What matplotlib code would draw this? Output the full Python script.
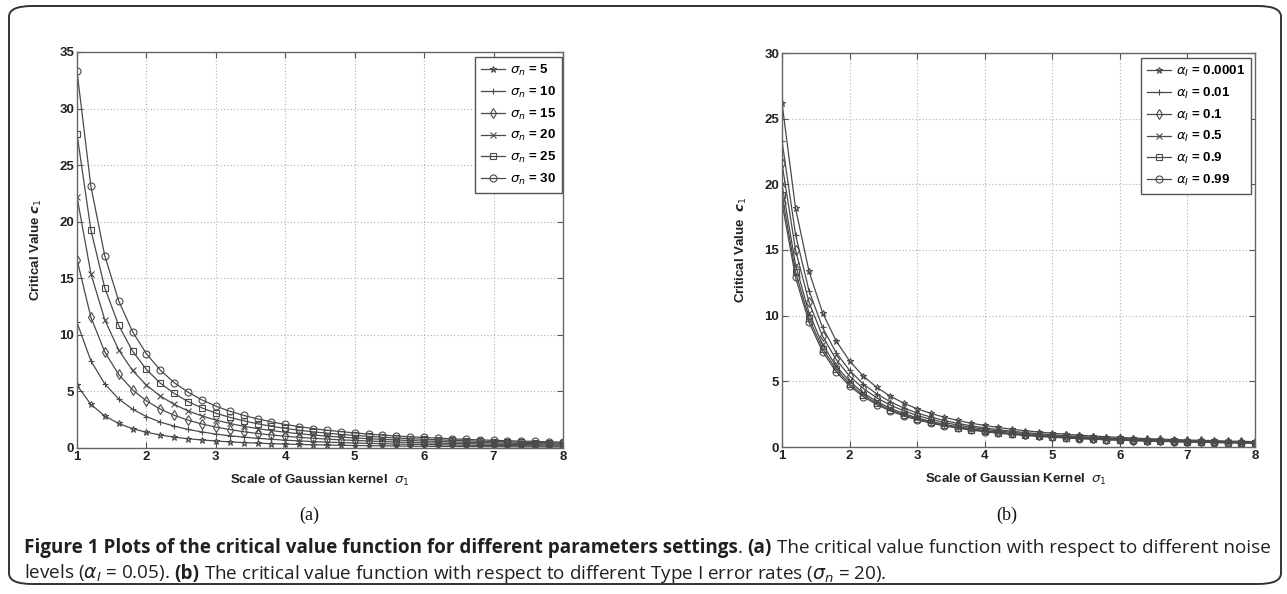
import matplotlib
matplotlib.use("Agg")
import matplotlib.pyplot as plt
from matplotlib import font_manager as fm
from matplotlib.patches import FancyBboxPatch

W, H = 1287, 594

# scale of the Gaussian kernel (x axis, both panels)
sigma_1 = [1.0, 1.2, 1.4, 1.6, 1.8, 2.0, 2.2, 2.4, 2.6, 2.8, 3.0, 3.2,
           3.4, 3.6, 3.8, 4.0, 4.2, 4.4, 4.6, 4.8, 5.0, 5.2, 5.4, 5.6,
           5.8, 6.0, 6.2, 6.4, 6.6, 6.8, 7.0, 7.2, 7.4, 7.6, 7.8, 8.0]

# panel (a): noise levels
noise_labels = ["5", "10", "15", "20", "25", "30"]
c_noise_5 = [5.55, 3.85, 2.83, 2.17, 1.71, 1.39, 1.15, 0.96, 0.82, 0.71, 0.62, 0.54,
             0.48, 0.43, 0.38, 0.35, 0.31, 0.29, 0.26, 0.24, 0.22, 0.21, 0.19, 0.18,
             0.16, 0.15, 0.14, 0.14, 0.13, 0.12, 0.11, 0.11, 0.10, 0.10, 0.09, 0.09]
c_noise_10 = [11.1, 7.71, 5.66, 4.34, 3.43, 2.78, 2.29, 1.93, 1.64, 1.42, 1.23, 1.08,
              0.96, 0.86, 0.77, 0.69, 0.63, 0.57, 0.52, 0.48, 0.44, 0.41, 0.38, 0.35,
              0.33, 0.31, 0.29, 0.27, 0.25, 0.24, 0.23, 0.21, 0.20, 0.19, 0.18, 0.17]
c_noise_15 = [16.65, 11.56, 8.49, 6.50, 5.14, 4.16, 3.44, 2.89, 2.46, 2.12, 1.85, 1.63,
              1.44, 1.28, 1.15, 1.04, 0.94, 0.86, 0.79, 0.72, 0.67, 0.62, 0.57, 0.53,
              0.49, 0.46, 0.43, 0.41, 0.38, 0.36, 0.34, 0.32, 0.30, 0.29, 0.27, 0.26]
c_noise_20 = [22.2, 15.42, 11.33, 8.67, 6.85, 5.55, 4.59, 3.85, 3.28, 2.83, 2.47, 2.17,
              1.92, 1.71, 1.54, 1.39, 1.26, 1.15, 1.05, 0.96, 0.89, 0.82, 0.76, 0.71,
              0.66, 0.62, 0.58, 0.54, 0.51, 0.48, 0.45, 0.43, 0.41, 0.38, 0.36, 0.35]
c_noise_25 = [27.75, 19.27, 14.16, 10.84, 8.56, 6.94, 5.73, 4.82, 4.10, 3.54, 3.08, 2.71,
              2.40, 2.14, 1.92, 1.73, 1.57, 1.43, 1.31, 1.20, 1.11, 1.03, 0.95, 0.88,
              0.82, 0.77, 0.72, 0.68, 0.64, 0.60, 0.57, 0.54, 0.51, 0.48, 0.46, 0.43]
c_noise_30 = [33.3, 23.13, 16.99, 13.01, 10.28, 8.33, 6.88, 5.78, 4.93, 4.25, 3.70, 3.25,
              2.88, 2.57, 2.31, 2.08, 1.89, 1.72, 1.57, 1.45, 1.33, 1.23, 1.14, 1.06,
              0.99, 0.93, 0.87, 0.81, 0.76, 0.72, 0.68, 0.64, 0.61, 0.58, 0.55, 0.52]

# panel (b): Type I error rates
alpha_labels = ["0.0001", "0.01", "0.1", "0.5", "0.9", "0.99"]
c_alpha_0001 = [26.2, 18.19, 13.37, 10.23, 8.09, 6.55, 5.41, 4.55, 3.88, 3.34, 2.91, 2.56,
                2.27, 2.02, 1.81, 1.64, 1.49, 1.35, 1.24, 1.14, 1.05, 0.97, 0.90, 0.84,
                0.78, 0.73, 0.68, 0.64, 0.60, 0.57, 0.53, 0.51, 0.48, 0.45, 0.43, 0.41]
c_alpha_01 = [23.3, 16.18, 11.89, 9.10, 7.19, 5.83, 4.81, 4.05, 3.45, 2.97, 2.59, 2.28,
              2.02, 1.80, 1.61, 1.46, 1.32, 1.20, 1.10, 1.01, 0.93, 0.86, 0.80, 0.74,
              0.69, 0.65, 0.61, 0.57, 0.54, 0.50, 0.48, 0.45, 0.43, 0.40, 0.38, 0.36]
c_alpha_1 = [21.6, 15.0, 11.02, 8.44, 6.67, 5.40, 4.46, 3.75, 3.20, 2.76, 2.40, 2.11,
             1.87, 1.67, 1.50, 1.35, 1.22, 1.12, 1.02, 0.94, 0.86, 0.80, 0.74, 0.69,
             0.64, 0.60, 0.56, 0.53, 0.50, 0.47, 0.44, 0.42, 0.39, 0.37, 0.36, 0.34]
c_alpha_5 = [20.0, 13.89, 10.20, 7.81, 6.17, 5.00, 4.13, 3.47, 2.96, 2.55, 2.22, 1.95,
             1.73, 1.54, 1.39, 1.25, 1.13, 1.03, 0.95, 0.87, 0.80, 0.74, 0.69, 0.64,
             0.59, 0.56, 0.52, 0.49, 0.46, 0.43, 0.41, 0.39, 0.37, 0.35, 0.33, 0.31]
c_alpha_9 = [19.2, 13.33, 9.80, 7.50, 5.93, 4.80, 3.97, 3.33, 2.84, 2.45, 2.13, 1.88,
             1.66, 1.48, 1.33, 1.20, 1.09, 0.99, 0.91, 0.83, 0.77, 0.71, 0.66, 0.61,
             0.57, 0.53, 0.50, 0.47, 0.44, 0.42, 0.39, 0.37, 0.35, 0.33, 0.32, 0.30]
c_alpha_99 = [18.6, 12.92, 9.49, 7.27, 5.74, 4.65, 3.84, 3.23, 2.75, 2.37, 2.07, 1.82,
              1.61, 1.44, 1.29, 1.16, 1.05, 0.96, 0.88, 0.81, 0.74, 0.69, 0.64, 0.59,
              0.55, 0.52, 0.48, 0.45, 0.43, 0.40, 0.38, 0.36, 0.34, 0.32, 0.31, 0.29]

noise_series = [c_noise_5, c_noise_10, c_noise_15, c_noise_20, c_noise_25, c_noise_30]
alpha_series = [c_alpha_0001, c_alpha_01, c_alpha_1, c_alpha_5, c_alpha_9, c_alpha_99]
markers = ["*", "+", "d", "x", "s", "o"]

installed = {f.name for f in fm.fontManager.ttflist}
AX_FONT = "Liberation Sans" if "Liberation Sans" in installed else "DejaVu Sans"
CAP_FONT = "Liberation Sans Narrow" if "Liberation Sans Narrow" in installed else "Open Sans"
SERIF = "Liberation Serif" if "Liberation Serif" in installed else "DejaVu Serif"

plt.rcParams["font.family"] = AX_FONT
plt.rcParams["mathtext.fontset"] = "dejavusans"

LINE = "#4a4a4a"
TEXT = "#222222"


def px_box(x0, y0, x1, y1):
    return [x0 / W, 1 - y1 / H, (x1 - x0) / W, (y1 - y0) / H]


def style_axes(ax, ymax, ystep):
    ax.set_xlim(1, 8)
    ax.set_ylim(0, ymax)
    ax.set_xticks(range(1, 9))
    ax.set_yticks(range(0, ymax + 1, ystep))
    ax.grid(True, linestyle=(0, (1, 2)), color="#b0b0b0", linewidth=0.8)
    ax.tick_params(direction="in", length=4, width=0.8, top=True, right=True,
                   labelsize=9.5, colors="#555555", labelcolor=TEXT, pad=2)
    for lab in ax.get_xticklabels() + ax.get_yticklabels():
        lab.set_fontweight("bold")
    for sp in ax.spines.values():
        sp.set_color("#666666")
        sp.set_linewidth(1.0)


def add_legend(ax, anchor):
    leg = ax.legend(loc="upper right", bbox_to_anchor=anchor, borderaxespad=0,
                    fancybox=False, edgecolor="#555555", framealpha=1,
                    handlelength=1.8, handletextpad=0.4, labelspacing=0.5,
                    borderpad=0.45,
                    prop={"family": AX_FONT, "weight": "bold", "size": 9.5})
    leg.get_frame().set_linewidth(1.0)


fig = plt.figure(figsize=(W / 100, H / 100), dpi=100)

# frame around the whole figure
fig.patches.append(FancyBboxPatch((9 / W, 10 / H), 1272 / W, 578 / H,
                                  boxstyle="round,pad=0,rounding_size=0.018",
                                  transform=fig.transFigure, fill=False,
                                  edgecolor="#333333", linewidth=1.4))

ax_a = fig.add_axes(px_box(77, 52, 563, 448))
for vals, lab, m in zip(noise_series, noise_labels, markers):
    ax_a.plot(sigma_1, vals, color=LINE, linewidth=0.9, marker=m, markersize=5,
              markerfacecolor="none", markeredgewidth=0.8,
              label=r"$\sigma_n$ = " + lab)
style_axes(ax_a, 35, 5)
ax_a.set_ylabel(r"Critical Value $\boldsymbol{c}_1$", fontsize=9.5, fontweight="bold",
                color=TEXT)
ax_a.yaxis.set_label_coords(-0.068, 0.5)
ax_a.set_xlabel(r"Scale of Gaussian kernel  $\sigma_1$", fontsize=9.5, fontweight="bold",
                color=TEXT)
ax_a.xaxis.set_label_coords(0.5, -0.063)
add_legend(ax_a, (0.998, 0.987))

ax_b = fig.add_axes(px_box(782, 53, 1255, 447))
for vals, lab, m in zip(alpha_series, alpha_labels, markers):
    ax_b.plot(sigma_1, vals, color=LINE, linewidth=0.9, marker=m, markersize=5,
              markerfacecolor="none", markeredgewidth=0.8,
              label=r"$\alpha_I$ = " + lab)
style_axes(ax_b, 30, 5)
ax_b.set_ylabel(r"Critical Value  $\boldsymbol{c}_1$", fontsize=9.5, fontweight="bold",
                color=TEXT)
ax_b.yaxis.set_label_coords(-0.070, 0.5)
ax_b.set_xlabel(r"Scale of Gaussian Kernel  $\sigma_1$", fontsize=9.5, fontweight="bold",
                color=TEXT)
ax_b.xaxis.set_label_coords(0.495, -0.063)
add_legend(ax_b, (0.992, 0.987))

fig.text(309 / W, 1 - 515 / H, "(a)", family=SERIF, fontsize=13, ha="center",
         va="center", color="#111111")
fig.text(1007 / W, 1 - 515 / H, "(b)", family=SERIF, fontsize=13, ha="center",
         va="center", color="#111111")

# caption, drawn run by run so bold and regular parts can be mixed;
# the flag says whether a space follows the run
renderer = fig.canvas.get_renderer()
line1 = [("Figure 1 Plots of the critical value function for different parameters settings", "bold", False),
         (".", "normal", True), ("(a)", "bold", True),
         ("The critical value function with respect to different noise", "normal", False)]
line2 = [(r"levels ($\alpha_I$ = 0.05).", "normal", True), ("(b)", "bold", True),
         (r"The critical value function with respect to different Type I error rates ($\sigma_n$ = 20).",
          "normal", False)]


def text_width(txt, weight, size):
    t = fig.text(0, 0, txt, family=CAP_FONT, fontweight=weight, fontsize=size)
    w = t.get_window_extent(renderer).width
    t.remove()
    return w


def line_width(runs, size):
    space = text_width("a a", "normal", size) - text_width("aa", "normal", size)
    return sum(text_width(t, w, size) + (space if s else 0) for t, w, s in runs)


def draw_line(runs, x0, y, size):
    space = text_width("a a", "normal", size) - text_width("aa", "normal", size)
    x = x0
    for txt, weight, sep in runs:
        t = fig.text(x / W, 1 - y / H, txt, family=CAP_FONT, fontweight=weight,
                     fontsize=size, va="baseline", color="#231f20")
        x += t.get_window_extent(renderer).width + (space if sep else 0)


base = 12
cap_size = base * (1247 / line_width(line1, base))
draw_line(line1, 24, 553, cap_size)
draw_line(line2, 24, 579, cap_size)

fig.savefig("out.png", dpi=100)
